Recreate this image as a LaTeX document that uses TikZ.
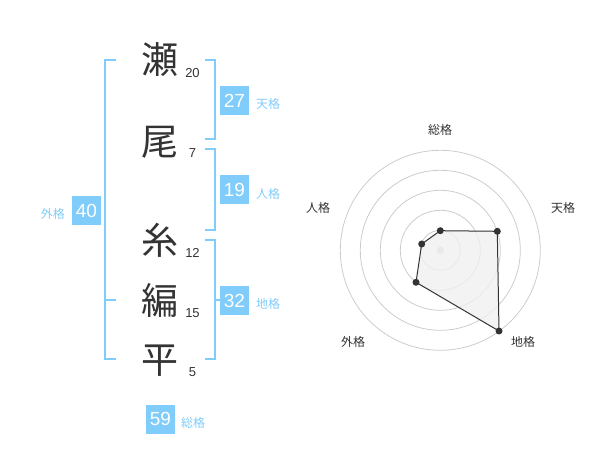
\documentclass[tikz,border=0pt]{standalone}
\usepackage{fontspec}
\setmainfont{Liberation Sans}
\newfontfamily\cjk{Noto Sans CJK JP}
\definecolor{kblue}{RGB}{128,204,250}
\definecolor{kdark}{RGB}{51,51,51}
\definecolor{kring}{RGB}{204,204,204}
\definecolor{kfill}{RGB}{240,240,240}
\begin{document}
\begin{tikzpicture}[x=1pt,y=-1pt,
  kanji/.style={inner sep=0,text=kdark,font=\cjk\fontsize{37}{37}\selectfont},
  strokes/.style={inner sep=0,text=kdark,font=\fontsize{13}{13}\selectfont},
  numbox/.style={fill=kblue,text=white,minimum width=29pt,minimum height=29pt,inner sep=0,font=\fontsize{19}{19}\selectfont},
  kaku/.style={inner sep=0,text=kblue,font=\cjk\fontsize{12}{12}\selectfont},
  bracket/.style={draw=kblue,line width=2pt},
  ring/.style={draw=kring,line width=0.8pt},
  rlabel/.style={inner sep=0,text=kdark,font=\cjk\fontsize{12}{12}\selectfont},
  rdot/.style={circle,fill=kdark,inner sep=0,minimum size=7pt},
]
\useasboundingbox (0,0) rectangle (600,470);
% name characters
\node[kanji] (c1) at (160,60) {瀬};
\node[kanji] (c2) at (160,142) {尾};
\node[kanji] (c3) at (160,240) {糸};
\node[kanji] (c4) at (160,300) {編};
\node[kanji] (c5) at (160,361) {平};
\node[strokes] (s1) at (192.5,73) {20};
\node[strokes] (s2) at (192.5,153) {7};
\node[strokes] (s3) at (192.5,253) {12};
\node[strokes] (s4) at (192.5,313) {15};
\node[strokes] (s5) at (192.5,372) {5};
% brackets
\draw[bracket] (116,60) -- (105,60) -- (105,359) -- (116,359);
\draw[bracket] (105,300) -- (116,300);
\draw[bracket] (205,60) -- (214.5,60) -- (214.5,139) -- (205,139);
\draw[bracket] (205,149) -- (214.5,149) -- (214.5,230) -- (205,230);
\draw[bracket] (205,240) -- (214.5,240) -- (214.5,359) -- (205,359);
\draw[bracket] (214.5,300) -- (223,300);
% boxes
\node[numbox] (ten) at (234.5,100.5) {27};
\node[kaku,anchor=west] (tenl) at (256,103.5) {天格};
\node[numbox] (jin) at (234.5,190) {19};
\node[kaku,anchor=west] (jinl) at (256,193.5) {人格};
\node[numbox] (chi) at (234.5,300.5) {32};
\node[kaku,anchor=west] (chil) at (256,303.5) {地格};
\node[numbox] (gai) at (86.5,210.5) {40};
\node[kaku,anchor=east] (gail) at (65,213.5) {外格};
\node[numbox] (sou) at (160.5,419) {59};
\node[kaku,anchor=west] (soul) at (181,422.5) {総格};
% radar
\coordinate (ctr) at (440.3,250.3);
\foreach \r in {20,40,60,80,100} \draw[ring] (ctr) circle (\r);
\node[circle,fill=kring,inner sep=0,minimum size=7pt] (cdot) at (ctr) {};
\node[rlabel] (lsou) at (440,130) {総格};
\node[rlabel] (lten) at (563,208) {天格};
\node[rlabel] (lchi) at (523,342) {地格};
\node[rlabel] (lgai) at (353,342) {外格};
\node[rlabel] (ljin) at (318,208) {人格};
\coordinate (psou) at (440.3,230.7);
\coordinate (pten) at (497.3,231.3);
\coordinate (pchi) at (499,331);
\coordinate (pgai) at (416,282.3);
\coordinate (pjin) at (421.7,244);
\filldraw[fill=kfill,fill opacity=0.8,draw=kdark,line width=1pt] (psou) -- (pten) -- (pchi) -- (pgai) -- (pjin) -- cycle;
\foreach \p in {psou,pten,pchi,pgai,pjin} \node[rdot] at (\p) {};
\end{tikzpicture}
\end{document}
